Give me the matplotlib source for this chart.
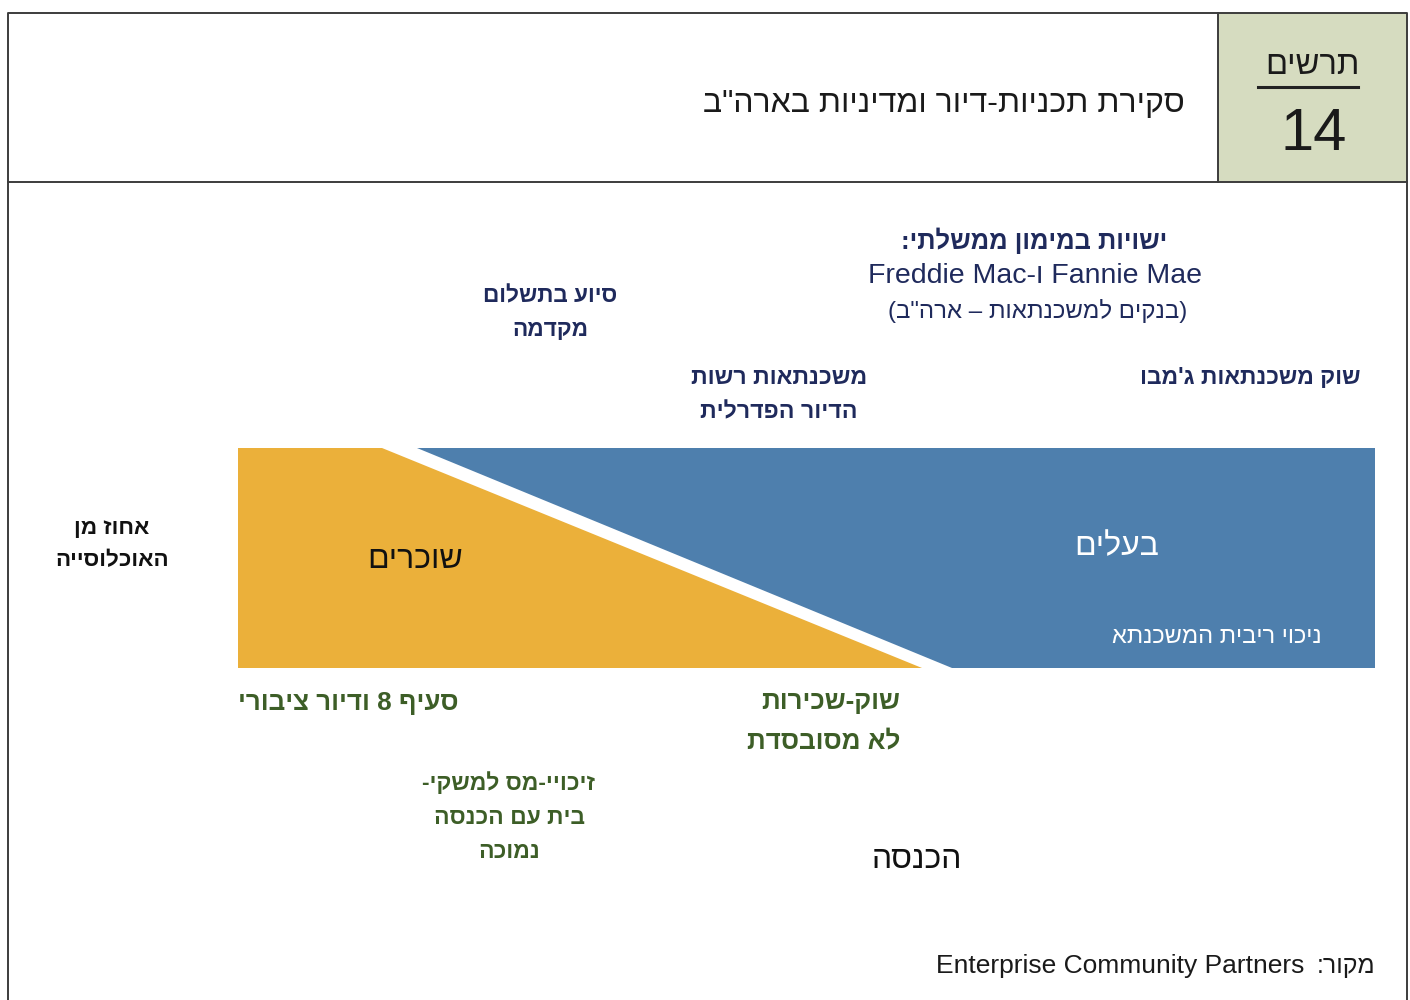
import matplotlib
matplotlib.use('Agg')
import matplotlib.pyplot as plt
from matplotlib.patches import Polygon, Rectangle

plt.rcParams['font.family'] = ['Liberation Sans', 'DejaVu Sans']

MIRROR = {'(': ')', ')': '('}


def rtl(s):
    # matplotlib has no bidi support, so hebrew is laid out in visual order
    return ''.join(MIRROR.get(c, c) for c in reversed(s))


# header
title = 'סקירת תכניות-דיור ומדיניות בארה"ב'
chart_word = 'תרשים'
chart_no = '14'

# shares of population split along income (pixel frame of the diagram)
band_x = [238, 1375]
band_y = [448, 668]
renters_x = [382, 922]   # top / bottom edge where renters end
owners_x = [417, 952]    # top / bottom edge where owners start

renters_label = 'שוכרים'
owners_label = 'בעלים'
owners_note = 'ניכוי ריבית המשכנתא'
y_label = ['אחוז מן', 'האוכלוסייה']
x_label = 'הכנסה'

# programs above the band (owner side)
gse_head = 'ישויות במימון ממשלתי:'
gse_names = 'Freddie Mac-ו Fannie Mae'
gse_note = '(בנקים למשכנתאות – ארה"ב)'
down_payment = ['סיוע בתשלום', 'מקדמה']
fha = ['משכנתאות רשות', 'הדיור הפדרלית']
jumbo = 'שוק משכנתאות ג\'מבו'

# programs below the band (renter side)
section8 = 'סעיף 8 ודיור ציבורי'
free_market = ['שוק-שכירות', 'לא מסובסדת']
lihtc = ['זיכויי-מס למשקי-', 'בית עם הכנסה', 'נמוכה']

source_word = 'מקור:'
source_name = 'Enterprise Community Partners'

ORANGE = '#ebb03a'
BLUE = '#4e7fad'
NAVY = '#1f2a5c'
GREEN = '#3d5e27'
FRAME = '#3c3c3c'

fig = plt.figure(figsize=(14.1, 10), dpi=100)
ax = fig.add_axes([0, 0, 1, 1])
ax.set_xlim(0, 1410)
ax.set_ylim(1000, 0)
ax.axis('off')

# page frame and header boxes
ax.add_patch(Rectangle((1218, 13), 189, 169, facecolor='#d6dcc0', edgecolor='none'))
ax.plot([8, 8, 1407, 1407], [1000, 13, 13, 1000], color=FRAME, lw=1.4)
ax.plot([8, 1407], [182, 182], color=FRAME, lw=1.4)
ax.plot([1218, 1218], [13, 182], color=FRAME, lw=1.4)
ax.plot([1258, 1358], [87, 87], color='#222222', lw=2.2)

ax.text(1185, 104, rtl(title), ha='right', va='center', fontsize=23, color='#1a1a1a')
ax.text(1312, 66, rtl(chart_word), ha='center', va='center', fontsize=23.5, color='#1a1a1a')
ax.text(1314, 134, chart_no, ha='center', va='center', fontsize=43, color='#1a1a1a')

# renters / owners wedges
x0, x1 = band_x
y0, y1 = band_y
renters = Polygon([(x0, y0), (renters_x[0], y0), (renters_x[1], y1), (x0, y1)],
                  closed=True, facecolor=ORANGE, edgecolor='none')
owners = Polygon([(owners_x[0], y0), (x1, y0), (x1, y1), (owners_x[1], y1)],
                 closed=True, facecolor=BLUE, edgecolor='none')
ax.add_patch(renters)
ax.add_patch(owners)

ax.text(415, 560, rtl(renters_label), ha='center', va='center', fontsize=23, color='#111111')
ax.text(1117, 547, rtl(owners_label), ha='center', va='center', fontsize=23, color='white')
ax.text(1322, 637, rtl(owners_note), ha='right', va='center', fontsize=17, color='white')

for i, line in enumerate(y_label):
    ax.text(112, 528 + i * 33, rtl(line), ha='center', va='center', fontsize=16.2,
            fontweight='bold', color='#111111')
ax.text(917, 860, rtl(x_label), ha='center', va='center', fontsize=23, color='#111111')

# upper labels
ax.text(1034, 241, rtl(gse_head), ha='center', va='center', fontsize=18.4,
        fontweight='bold', color=NAVY)
ax.text(1035, 276, gse_names, ha='center', va='center', fontsize=20.5, color=NAVY)
ax.text(1038, 311, rtl(gse_note), ha='center', va='center', fontsize=17.3, color=NAVY)
for i, line in enumerate(down_payment):
    ax.text(550, 296 + i * 34, rtl(line), ha='center', va='center', fontsize=16.3,
            fontweight='bold', color=NAVY)
for i, line in enumerate(fha):
    ax.text(779, 378 + i * 34, rtl(line), ha='center', va='center', fontsize=16.7,
            fontweight='bold', color=NAVY)
ax.text(1361, 378, rtl(jumbo), ha='right', va='center', fontsize=16.5,
        fontweight='bold', color=NAVY)

# lower labels
ax.text(458, 703, rtl(section8), ha='right', va='center', fontsize=18.7,
        fontweight='bold', color=GREEN)
for i, line in enumerate(free_market):
    ax.text(900, 702 + i * 39, rtl(line), ha='right', va='center', fontsize=18.7,
            fontweight='bold', color=GREEN)
for i, line in enumerate(lihtc):
    ax.text(509, 784 + i * 34, rtl(line), ha='center', va='center', fontsize=16.5,
            fontweight='bold', color=GREEN)

# source line
ax.text(1375, 966, rtl(source_word), ha='right', va='center', fontsize=18, color='#1a1a1a')
ax.text(1304, 966, source_name, ha='right', va='center', fontsize=19, color='#1a1a1a')

fig.savefig('out.png', dpi=100)
